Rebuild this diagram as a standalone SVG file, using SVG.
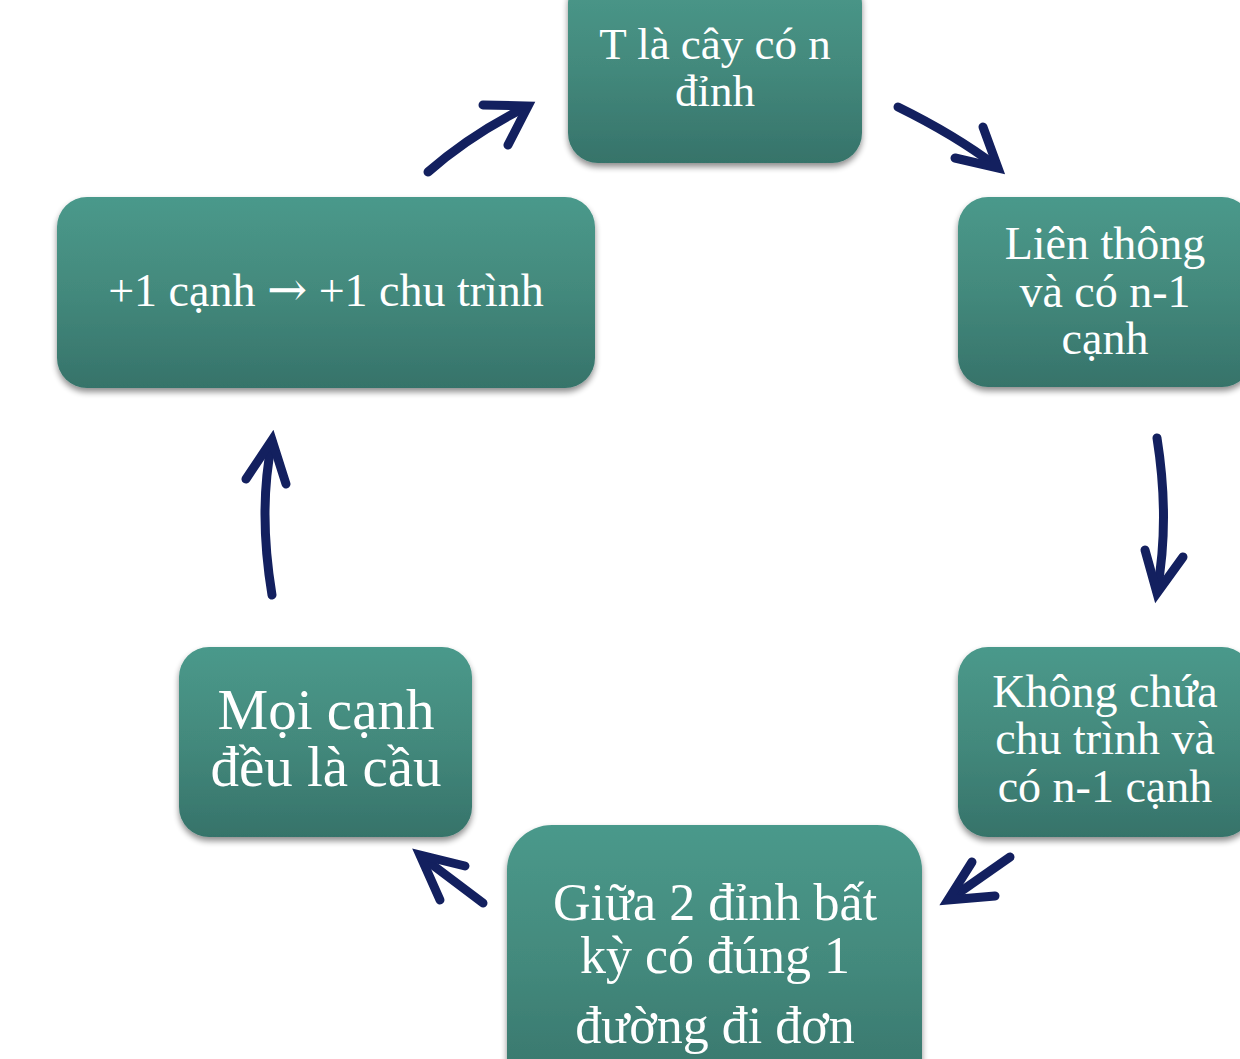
<svg xmlns="http://www.w3.org/2000/svg" width="1240" height="1059" viewBox="0 0 1240 1059">
<defs>
<linearGradient id="g" x1="0" y1="0" x2="0" y2="1">
<stop offset="0" stop-color="#4a998b"/>
<stop offset="0.5" stop-color="#43897c"/>
<stop offset="1" stop-color="#36736a"/>
</linearGradient>
<filter id="sh" x="-10%" y="-10%" width="120%" height="130%">
<feGaussianBlur in="SourceAlpha" stdDeviation="3"/>
<feOffset dx="0" dy="4" result="b"/>
<feComponentTransfer><feFuncA type="linear" slope="0.45"/></feComponentTransfer>
<feMerge><feMergeNode/><feMergeNode in="SourceGraphic"/></feMerge>
</filter>
</defs>
<style>
.box{fill:url(#g);filter:url(#sh);}
.t{font-family:"Liberation Serif","Times New Roman",serif;fill:#ffffff;text-anchor:middle;font-size:46px;}
.ar{font-family:"DejaVu Serif",serif;font-size:48px;}
.a{fill:none;stroke:#13205f;stroke-width:9;stroke-linecap:round;}
.h{fill:none;stroke:#13205f;stroke-width:9;stroke-linecap:round;stroke-linejoin:miter;stroke-miterlimit:10;}
</style>
<rect width="1240" height="1059" fill="#ffffff"/>
<g id="n1">
<rect class="box" x="568" y="-27" width="294" height="190" rx="30"/>
<text class="t" x="715" y="59" style="font-size:45px">T là cây có n</text>
<text class="t" x="715" y="106" style="font-size:45px">đỉnh</text>
</g>
<g id="n2">
<rect class="box" x="958" y="197" width="294" height="190" rx="30"/>
<text class="t" x="1105" y="259">Liên thông</text>
<text class="t" x="1105" y="307">và có n-1</text>
<text class="t" x="1105" y="354">cạnh</text>
</g>
<g id="n3">
<rect class="box" x="958" y="647" width="294" height="190" rx="30"/>
<text class="t" x="1105" y="707">Không chứa</text>
<text class="t" x="1105" y="754">chu trình và</text>
<text class="t" x="1105" y="802">có n-1 cạnh</text>
</g>
<g id="n4">
<rect class="box" x="507" y="825" width="415" height="280" rx="45"/>
<text class="t" x="715" y="920" style="font-size:52px">Giữa 2 đỉnh bất</text>
<text class="t" x="715" y="973" style="font-size:52px">kỳ có đúng 1</text>
<text class="t" x="715" y="1043" style="font-size:52px">đường đi đơn</text>
</g>
<g id="n5">
<rect class="box" x="179" y="647" width="293" height="190" rx="30"/>
<text class="t" x="326" y="729" style="font-size:57px">Mọi cạnh</text>
<text class="t" x="326" y="786" style="font-size:57px">đều là cầu</text>
</g>
<g id="n6">
<rect class="box" x="57" y="197" width="538" height="191" rx="30"/>
<text class="t" x="326" y="306">+1 cạnh <tspan class="ar">→</tspan> +1 chu trình</text>
</g>
<g id="connectors">
<path class="a" d="M428,172 Q470,135 526,107"/>
<path class="h" d="M483,105 L528,106 L508,145"/>
<path class="a" d="M898,107 Q955,135 996,166"/>
<path class="h" d="M983,127 L998,168 L955,158"/>
<path class="a" d="M1157,438 Q1170,520 1157,591"/>
<path class="h" d="M1145,550 L1157,593 L1183,557"/>
<path class="a" d="M1010,857 L950,899"/>
<path class="h" d="M972,862 L948,900 L995,896"/>
<path class="a" d="M483,903 L422,857"/>
<path class="h" d="M465,866 L420,855 L440,900"/>
<path class="a" d="M272,595 Q258,510 272,442"/>
<path class="h" d="M246,479 L272,440 L286,484"/>
</g>
</svg>
